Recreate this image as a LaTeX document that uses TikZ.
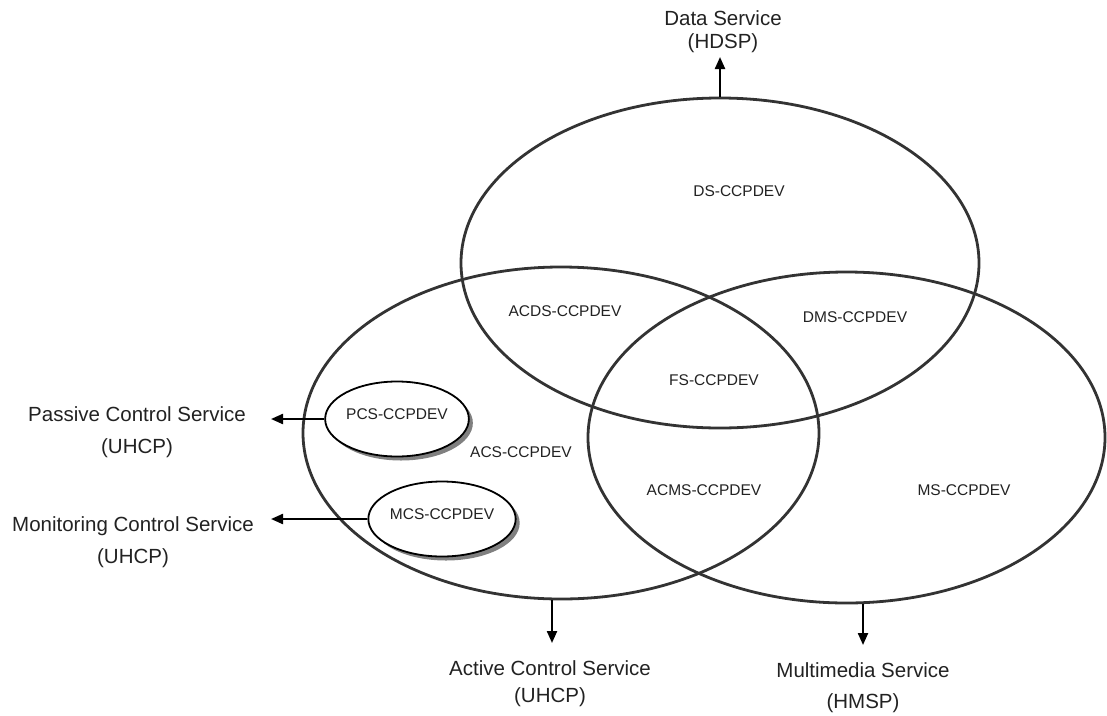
\documentclass[tikz,border=0pt]{standalone}
\usepackage{fontspec}
\setmainfont{Liberation Sans}
\usetikzlibrary{shapes.geometric,arrows.meta,shadows}
\definecolor{ringcol}{HTML}{333333}
\definecolor{txtcol}{HTML}{222222}
\definecolor{shadecol}{HTML}{808080}
\tikzset{
  ring/.style={ellipse, draw=ringcol, line width=2.8pt, inner sep=0pt},
  device/.style={ellipse, draw=black, line width=1.8pt, fill=white, inner sep=0pt,
    minimum width=136pt, minimum height=75pt,
    text height=11pt, text depth=10pt, text=txtcol,
    font=\fontsize{15.5}{18}\selectfont,
    drop shadow={shadow xshift=4pt, shadow yshift=-4pt, fill=shadecol, opacity=1}},
  zone/.style={text=txtcol, font=\fontsize{15.5}{18}\selectfont, inner sep=0pt},
  service/.style={text=txtcol, align=center, inner sep=0pt},
  arr/.style={draw=black, line width=2.2pt, -{Triangle[length=12pt,width=10pt]}}
}
\begin{document}
\begin{tikzpicture}[x=1pt,y=-1pt]
\useasboundingbox (0,0) rectangle (1107,715);

% the three overlapping service domains
\node[ring, minimum width=518pt, minimum height=330pt] (ds) at (720,263) {};
\node[ring, minimum width=516pt, minimum height=332pt] (acs) at (561,433) {};
\node[ring, minimum width=517pt, minimum height=331pt] (ms) at (846.5,437.5) {};

% region labels
\node[zone] (dsz) at (739,191) {DS-CCPDEV};
\node[zone] (acdsz) at (565,311) {ACDS-CCPDEV};
\node[zone] (dmsz) at (855,317) {DMS-CCPDEV};
\node[zone] (fsz) at (714,380) {FS-CCPDEV};
\node[zone] (acsz) at (521,452) {ACS-CCPDEV};
\node[zone] (acmsz) at (704,490) {ACMS-CCPDEV};
\node[zone] (msz) at (964,490) {MS-CCPDEV};

% sub-devices of the active control domain
\node[device] (pcs) at (397,419) {PCS-CCPDEV};
\node[device] (mcs) at (442,519) {MCS-CCPDEV};

% external service labels
\node[service, font=\fontsize{20.5}{23}\selectfont] (dsl) at (723,31.5) {Data Service\\(HDSP)};
\node[service, font=\fontsize{20.5}{32}\selectfont] (pcsl) at (137,432) {Passive Control Service\\(UHCP)};
\node[service, font=\fontsize{20.5}{32}\selectfont] (mcsl) at (133,542) {Monitoring Control Service\\(UHCP)};
\node[service, font=\fontsize{20.5}{27}\selectfont] (acsl) at (550,683.5) {Active Control Service\\(UHCP)};
\node[service, font=\fontsize{20.5}{31}\selectfont] (msl) at (863,687.5) {Multimedia Service\\(HMSP)};

% arrow tips
\coordinate (dstip) at (720,57);
\coordinate (pcstip) at (271,419);
\coordinate (mcstip) at (271,519);
\coordinate (acstip) at (552,643);
\coordinate (mstip) at (863,645);

% service connectors
\draw[arr] (ds.north) -- (dstip);
\draw[arr] (pcs.west) -- (pcstip);
\draw[arr] (mcs.west) -- (mcstip);
\draw[arr] (acs.south -| acstip) -- (acstip);
\draw[arr] (ms.south -| mstip) -- (mstip);
\end{tikzpicture}
\end{document}
